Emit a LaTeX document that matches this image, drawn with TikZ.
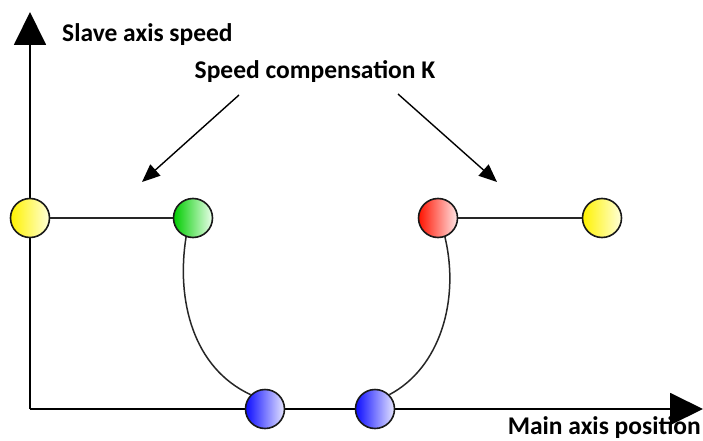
\documentclass[tikz,border=0pt]{standalone}
\usepackage{fontspec}
\setmainfont{Carlito}
\usetikzlibrary{arrows.meta}
\tikzset{
  ball/.style={circle, draw=black!90, line width=1.6pt, minimum size=39pt, inner sep=0pt},
  conn/.style={line width=1.5pt, draw=black!85},
  axisline/.style={line width=1.9pt, -{Triangle[length=33pt,width=32pt]}},
  karrow/.style={line width=1.4pt, -{Triangle[length=18pt,width=15pt]}},
  lbl/.style={font=\bfseries\fontsize{25.5}{30}\selectfont, inner sep=0pt}
}
\begin{document}
\begin{tikzpicture}[x=1pt,y=-1pt]
\useasboundingbox (0,0) rectangle (703,441);
\coordinate (origin) at (30,409);
\coordinate (ytip) at (30,12);
\coordinate (xtip) at (703,409);
\draw[axisline] (origin) -- (ytip);
\draw[axisline] (origin) -- (xtip);

\node[ball, left color=yellow!90!orange, right color=yellow!15] (y1) at (30,218) {};
\node[ball, left color=green!80!black, right color=green!8] (g) at (193,218) {};
\node[ball, left color=red!85!orange, right color=red!10] (r) at (438,218) {};
\node[ball, left color=yellow!90!orange, right color=yellow!15] (y2) at (602,218) {};
\node[ball, left color=blue!95, right color=blue!10] (b1) at (265,409) {};
\node[ball, left color=blue!95, right color=blue!10] (b2) at (375,409) {};

\draw[conn] (y1) -- (g);
\draw[conn] (r) -- (y2);
\draw[conn] (g.-110) .. controls (176,300) and (193,368) .. (b1.135);
\draw[conn] (r.-70) .. controls (460,300) and (440,368) .. (b2.45);

\node[lbl, anchor=west] (ylab) at (62,35) {Slave axis speed};
\node[lbl] (klab) at (315,72) {Speed compensation K};
\node[lbl, anchor=east] (xlab) at (701,428) {Main axis position};

\coordinate (ka) at (239,95);
\coordinate (kb) at (398,94);
\coordinate (kaend) at (142,182);
\coordinate (kbend) at (497,182);
\draw[karrow] (ka) -- (kaend);
\draw[karrow] (kb) -- (kbend);
\end{tikzpicture}
\end{document}
